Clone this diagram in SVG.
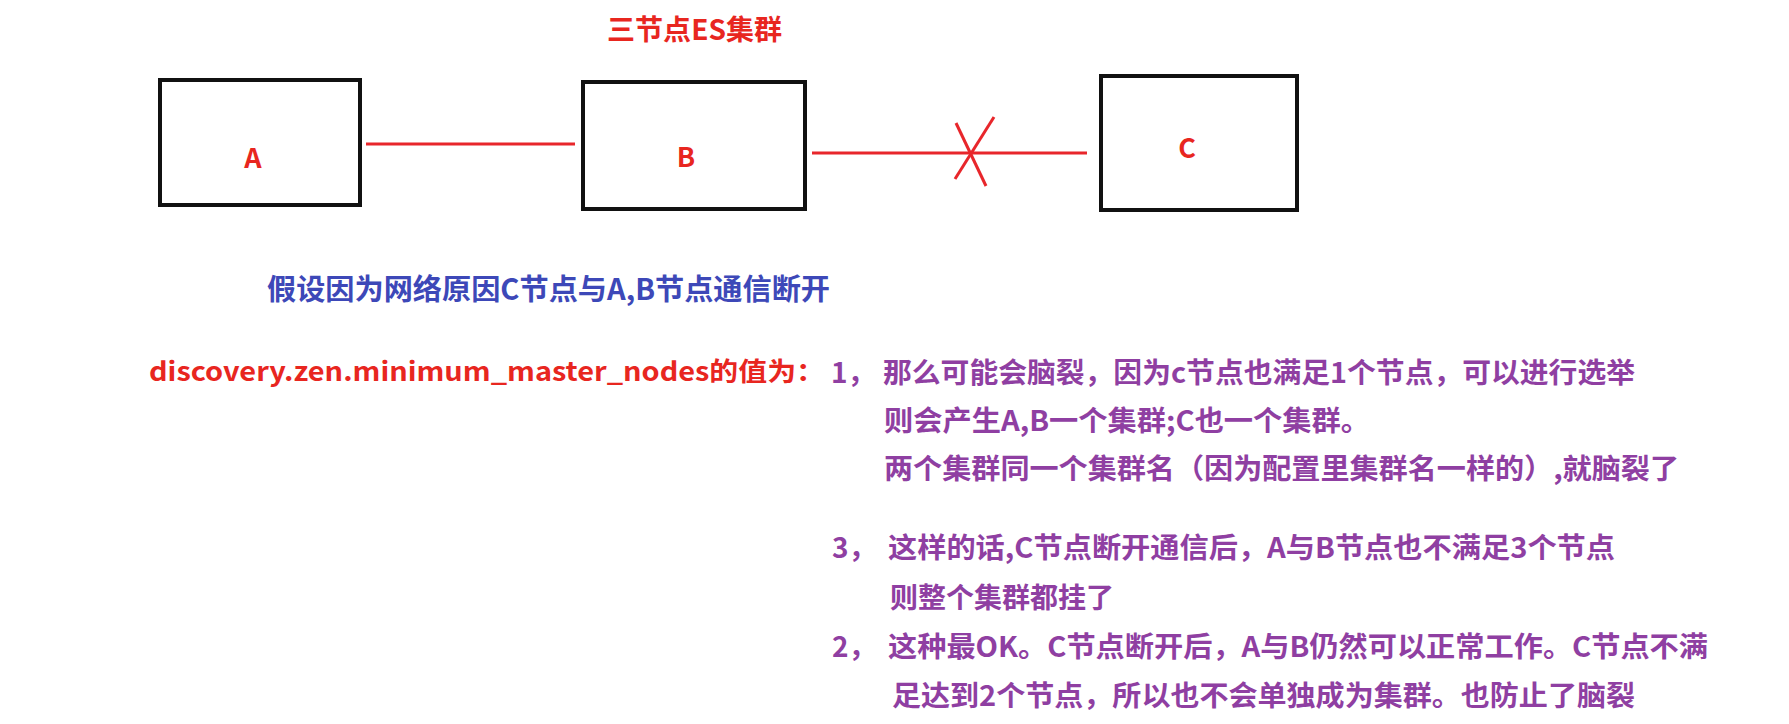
<svg xmlns="http://www.w3.org/2000/svg" width="1789" height="724" viewBox="0 0 1789 724">
  <style>
    .box { fill: #ffffff; stroke: #111111; stroke-width: 4; }
    .lbl { font-family: "Noto Sans CJK SC", "Liberation Sans", sans-serif; font-weight: bold; fill: #e8261f; font-size: 27px; text-anchor: middle; }
    .conn { stroke: #e8262b; stroke-width: 3; fill: none; }
    .t { font-family: "Noto Sans CJK SC", "Liberation Sans", sans-serif; font-weight: bold; }
    .red { fill: #e8261f; }
    .blue { fill: #3d48b8; }
    .pur { fill: #8f3fa2; font-size: 28px; }
  </style>
  <rect width="1789" height="724" fill="#ffffff"/>

  <text class="t red" x="607" y="40" font-size="28" textLength="175" lengthAdjust="spacingAndGlyphs">三节点ES集群</text>

  <g id="connectors">
    <line class="conn" x1="366" y1="144" x2="575" y2="144"/>
    <line class="conn" x1="812" y1="153" x2="1087" y2="153"/>
    <line class="conn" x1="956" y1="123" x2="986" y2="186"/>
    <line class="conn" x1="994" y1="117" x2="955" y2="179"/>
  </g>

  <g id="node-A">
    <rect class="box" x="160" y="80" width="200" height="125"/>
    <text class="lbl" x="253" y="168">A</text>
  </g>
  <g id="node-B">
    <rect class="box" x="583" y="82" width="222" height="127"/>
    <text class="lbl" x="686" y="167">B</text>
  </g>
  <g id="node-C">
    <rect class="box" x="1101" y="76" width="196" height="134"/>
    <text class="lbl" x="1187" y="158">C</text>
  </g>

  <text class="t blue" x="267" y="300" font-size="29" textLength="563" lengthAdjust="spacingAndGlyphs">假设因为网络原因C节点与A,B节点通信断开</text>

  <text class="t red" x="149" y="381" font-size="26" textLength="676" lengthAdjust="spacingAndGlyphs">discovery.zen.minimum_master_nodes的值为：</text>

  <g id="notes">
    <text class="t pur" x="831" y="383">1，</text>
    <text class="t pur" x="883" y="383" textLength="752" lengthAdjust="spacingAndGlyphs">那么可能会脑裂，因为c节点也满足1个节点，可以进行选举</text>
    <text class="t pur" x="884" y="431" textLength="486" lengthAdjust="spacingAndGlyphs">则会产生A,B一个集群;C也一个集群。</text>
    <text class="t pur" x="884" y="479" textLength="795" lengthAdjust="spacingAndGlyphs">两个集群同一个集群名（因为配置里集群名一样的）,就脑裂了</text>

    <text class="t pur" x="832" y="558">3，</text>
    <text class="t pur" x="888" y="558" textLength="727" lengthAdjust="spacingAndGlyphs">这样的话,C节点断开通信后，A与B节点也不满足3个节点</text>
    <text class="t pur" x="890" y="608" textLength="224" lengthAdjust="spacingAndGlyphs">则整个集群都挂了</text>

    <text class="t pur" x="832" y="657">2，</text>
    <text class="t pur" x="888" y="657" textLength="820" lengthAdjust="spacingAndGlyphs">这种最OK。C节点断开后，A与B仍然可以正常工作。C节点不满</text>
    <text class="t pur" x="892" y="706" textLength="743" lengthAdjust="spacingAndGlyphs">足达到2个节点，所以也不会单独成为集群。也防止了脑裂</text>
  </g>
</svg>
